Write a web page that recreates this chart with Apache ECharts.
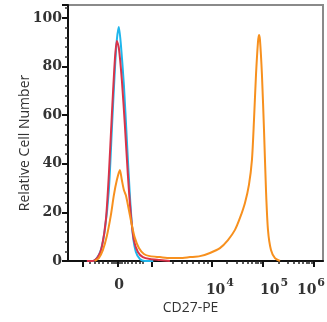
<!DOCTYPE html>
<html>
<head>
<meta charset="utf-8">
<script src="https://cdn.jsdelivr.net/npm/echarts@6/dist/echarts.min.js"></script>
<style>
  html, body { margin: 0; padding: 0; background: #fff; }
  #chart { width: 327px; height: 322px; }
</style>
</head>
<body>
<div id="chart"></div>
<script>
// x positions are in display units of the biexponential scale (1 unit = 1 decade)
const blueX = [1.55, 1.667, 1.745, 1.824, 1.902, 1.980, 2.039, 2.098, 2.137, 2.176, 2.216, 2.275, 2.333, 2.392, 2.451, 2.510, 2.588, 2.686, 2.85]
const blueY = [0, 0, 1.2, 4.5, 12.8, 29, 54, 78.6, 91, 96.3, 89, 72.4, 49.8, 27, 10.7, 3.7, 0.8, 0, 0]

const redX = [1.55, 1.667, 1.765, 1.843, 1.922, 1.980, 2.039, 2.098, 2.137, 2.176, 2.235, 2.294, 2.353, 2.412, 2.471, 2.549, 2.647, 2.784, 2.980, 3.176]
const redY = [0, 0, 1.6, 5.8, 16.9, 35.4, 60, 82.7, 90.5, 87.7, 74.5, 56, 35.4, 18.9, 8.6, 3.7, 1.6, 0.8, 0.4, 0]

const orangeX = [1.706, 1.784, 1.863, 1.941, 2.020, 2.078, 2.137, 2.196, 2.235, 2.275, 2.314, 2.373, 2.431, 2.490, 2.569, 2.667, 2.784, 2.980, 3.176, 3.373, 3.569, 3.765, 3.961, 4.157, 4.314, 4.451, 4.549, 4.647, 4.725, 4.784, 4.824, 4.863, 4.902, 4.922, 4.941, 4.980, 5.020, 5.059, 5.098, 5.157, 5.235, 5.333]
const orangeY = [0, 1.2, 4.5, 10.3, 18.9, 27, 33.3, 37.4, 33.3, 29.2, 27, 21, 14.8, 9.5, 5.3, 2.9, 2, 1.6, 1.2, 1.2, 1.6, 2, 3.3, 5.3, 8.6, 12.8, 17.7, 23.9, 31.3, 41.6, 58, 76.5, 90, 93, 91, 76.5, 54, 29.2, 12.8, 4.5, 1.2, 0]

// axis ticks / labels
const xMajorTicks = [1.471, 2.157, 2.824, 4, 5, 6]
const xMinorTicks = [1.61, 1.71, 1.79, 1.87, 1.95, 2.03, 2.08, 2.12, 2.19, 2.23, 2.29, 2.35, 2.43, 2.51, 2.59, 2.65,
  3.24, 3.40, 3.50, 3.62, 3.74, 3.84, 3.92,
  4.30, 4.48, 4.60, 4.70, 4.78, 4.85, 4.90, 4.95,
  5.30, 5.48, 5.60, 5.70, 5.78, 5.85, 5.90, 5.95]
const xLabelPos = [2.182, 4.157, 5.216, 5.94]
const xLabelText = ['{b|0}', '{b|10}{s|4}', '{b|10}{s|5}', '{b|10}{s|6}']

const zip = (xs, ys) => xs.map((x, i) => [x, ys[i]])

const chart = echarts.init(document.getElementById('chart'))

const labelFont = 'DejaVu Serif'
const baseAxis = {
  type: 'value',
  min: 1.18,
  max: 6.176,
  position: 'bottom',
  splitLine: { show: false }
}

const option = {
  animation: false,
  backgroundColor: '#fff',
  grid: {
    left: 68, right: 4, top: 5, bottom: 61,
    outerBoundsMode: 'none',
    containLabel: false,
    show: true,
    borderColor: '#8a8a8a',
    borderWidth: 2
  },
  xAxis: [
    Object.assign({}, baseAxis, {
      name: 'CD27-PE',
      nameLocation: 'middle',
      nameGap: 40,
      nameMoveOverlap: false,
      nameTextStyle: { fontFamily: 'Open Sans', fontSize: 14, color: '#333', padding: [0, 10, 0, 0] },
      axisLine: { show: true, lineStyle: { color: '#111', width: 2 } },
      axisTick: { show: true, inside: false, length: 6, customValues: xMajorTicks, lineStyle: { color: '#111', width: 2 } },
      axisLabel: {
        customValues: xLabelPos,
        margin: 17,
        formatter: (v) => {
          let best = 0
          xLabelPos.forEach((p, i) => { if (Math.abs(p - v) < Math.abs(xLabelPos[best] - v)) best = i })
          return xLabelText[best]
        },
        rich: {
          b: { fontFamily: labelFont, fontWeight: 'bold', fontSize: 14, color: '#333', verticalAlign: 'bottom' },
          s: { fontFamily: labelFont, fontWeight: 'bold', fontSize: 11, color: '#333', verticalAlign: 'bottom', padding: [0, 0, 8, 1] }
        }
      }
    }),
    Object.assign({}, baseAxis, {
      axisLine: { show: false },
      axisTick: { show: true, length: 3, customValues: xMinorTicks, lineStyle: { color: '#222', width: 1.5 } },
      axisLabel: { show: false }
    })
  ],
  yAxis: {
    type: 'value',
    min: 0,
    max: 105.3,
    interval: 20,
    name: 'Relative Cell Number',
    nameLocation: 'middle',
    nameGap: 36,
    nameMoveOverlap: false,
    nameTextStyle: { fontFamily: 'Open Sans', fontSize: 14, color: '#333', padding: [0, 20, 0, 0] },
    axisLine: { show: true, lineStyle: { color: '#111', width: 2 } },
    axisTick: { show: true, length: 6, lineStyle: { color: '#111', width: 2 } },
    minorTick: { show: true, splitNumber: 5, length: 3, lineStyle: { color: '#333', width: 1.5 } },
    splitLine: { show: false },
    axisLabel: {
      margin: 6,
      showMaxLabel: false,
      fontFamily: labelFont,
      fontWeight: 'bold',
      fontSize: 14,
      color: '#333'
    }
  },
  series: [
    {
      name: 'isotype',
      type: 'line',
      data: zip(blueX, blueY),
      showSymbol: false,
      smooth: 0.25,
      lineStyle: { color: '#1fb6ec', width: 2 }
    },
    {
      name: 'unstained',
      type: 'line',
      data: zip(redX, redY),
      showSymbol: false,
      smooth: 0.25,
      lineStyle: { color: '#d9334a', width: 2 }
    },
    {
      name: 'CD27',
      type: 'line',
      data: zip(orangeX, orangeY),
      showSymbol: false,
      smooth: 0.25,
      lineStyle: { color: '#f7901e', width: 2 }
    }
  ]
}

chart.setOption(option)
</script>
</body>
</html>
